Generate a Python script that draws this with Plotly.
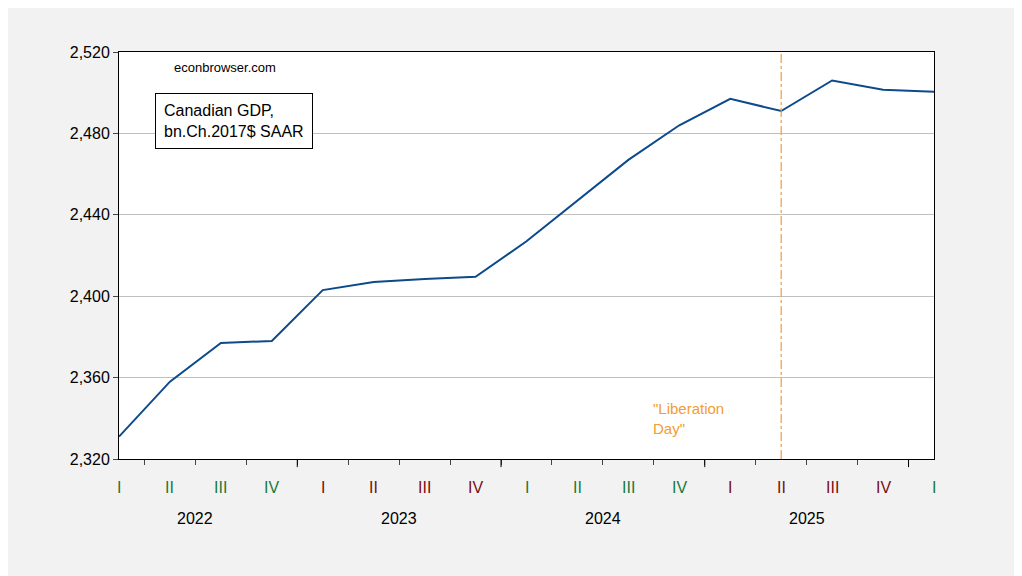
import plotly.graph_objs as go


def get_plot_gdp(data, width=1022, height=576):
    fig = go.Figure()
    fig.add_trace(
        go.Scatter(
            x=list(range(len(data['gdp']))),
            y=data['gdp'],
            mode='lines',
            line=dict(color='#0b4a8b', width=2),
            name='gdp')
    )

    # "Liberation Day" marker at 2025Q2
    fig.add_shape(type='line', x0=13, x1=13, y0=2320, y1=2520, xref='x', yref='y',
                  line=dict(color='#f39c33', width=1.2, dash='dashdot'))
    fig.add_annotation(x=10.45, y=2330, xref='x', yref='y', text='"Liberation<br>Day"',
                       showarrow=False, xanchor='left', yanchor='bottom', align='left',
                       font=dict(color='#f39c33', size=15))

    fig.add_annotation(x=0.065, y=0.985, xref='paper', yref='paper', text='econbrowser.com',
                       showarrow=False, xanchor='left', yanchor='top', font=dict(size=13))
    fig.add_annotation(x=0.044, y=0.9, xref='paper', yref='paper',
                       text='Canadian GDP,<br>bn.Ch.2017$ SAAR', showarrow=False,
                       xanchor='left', yanchor='top', align='left', bordercolor='black',
                       borderwidth=1, borderpad=8, bgcolor='white', font=dict(size=16))

    # quarter and year labels
    colors = {'2022': '#1a7a3a', '2023': '#7a1010', '2024': '#1a7a3a', '2025': '#7a1010', '2026': '#1a7a3a'}
    for i, q in enumerate(data['quarters']):
        fig.add_annotation(x=i, y=-0.045, xref='x', yref='paper', text=q, showarrow=False,
                           yanchor='top', font=dict(size=16, color=colors[data['years'][i]]))
    for k, yr in enumerate(['2022', '2023', '2024', '2025']):
        fig.add_annotation(x=4 * k + 1.5, y=-0.12, xref='x', yref='paper', text=yr,
                           showarrow=False, yanchor='top', font=dict(size=16))
        fig.add_shape(type='line', x0=4 * k + 3.5 if k < 3 else 15.5, x1=4 * k + 3.5 if k < 3 else 15.5,
                      y0=0, y1=-0.02, xref='x', yref='paper', line=dict(color='black', width=1))

    fig.update_layout(
        width=width,
        height=height,
        showlegend=False,
        paper_bgcolor='#f2f2f2',
        plot_bgcolor='white',
        margin=dict(l=111, r=96, t=44, b=125),
        font=dict(family='Liberation Sans, Arial', size=16, color='black'),
    )

    fig.update_xaxes(
        range=[0, 16],
        tickvals=[i + 0.5 for i in range(16)],
        ticks='outside', ticklen=5, showticklabels=False, showgrid=False,
        showline=True, linecolor='black', mirror=True,
    )
    fig.update_yaxes(
        range=[2320, 2520], dtick=40, tickformat=',', ticks='outside', ticklen=5,
        gridcolor='#c0c0c0', showline=True, linecolor='black', mirror=True,
    )
    return fig


data = {
    'gdp': [2331, 2358, 2377, 2378, 2403, 2407, 2408.5, 2409.5, 2427,
            2447, 2467, 2484, 2497, 2491, 2506, 2501.5, 2500.5],
    'quarters': ['I', 'II', 'III', 'IV'] * 4 + ['I'],
    'years': [y for y in ['2022', '2023', '2024', '2025'] for _ in range(4)] + ['2026'],
}

fig = get_plot_gdp(data)
fig.write_html("out.html")
